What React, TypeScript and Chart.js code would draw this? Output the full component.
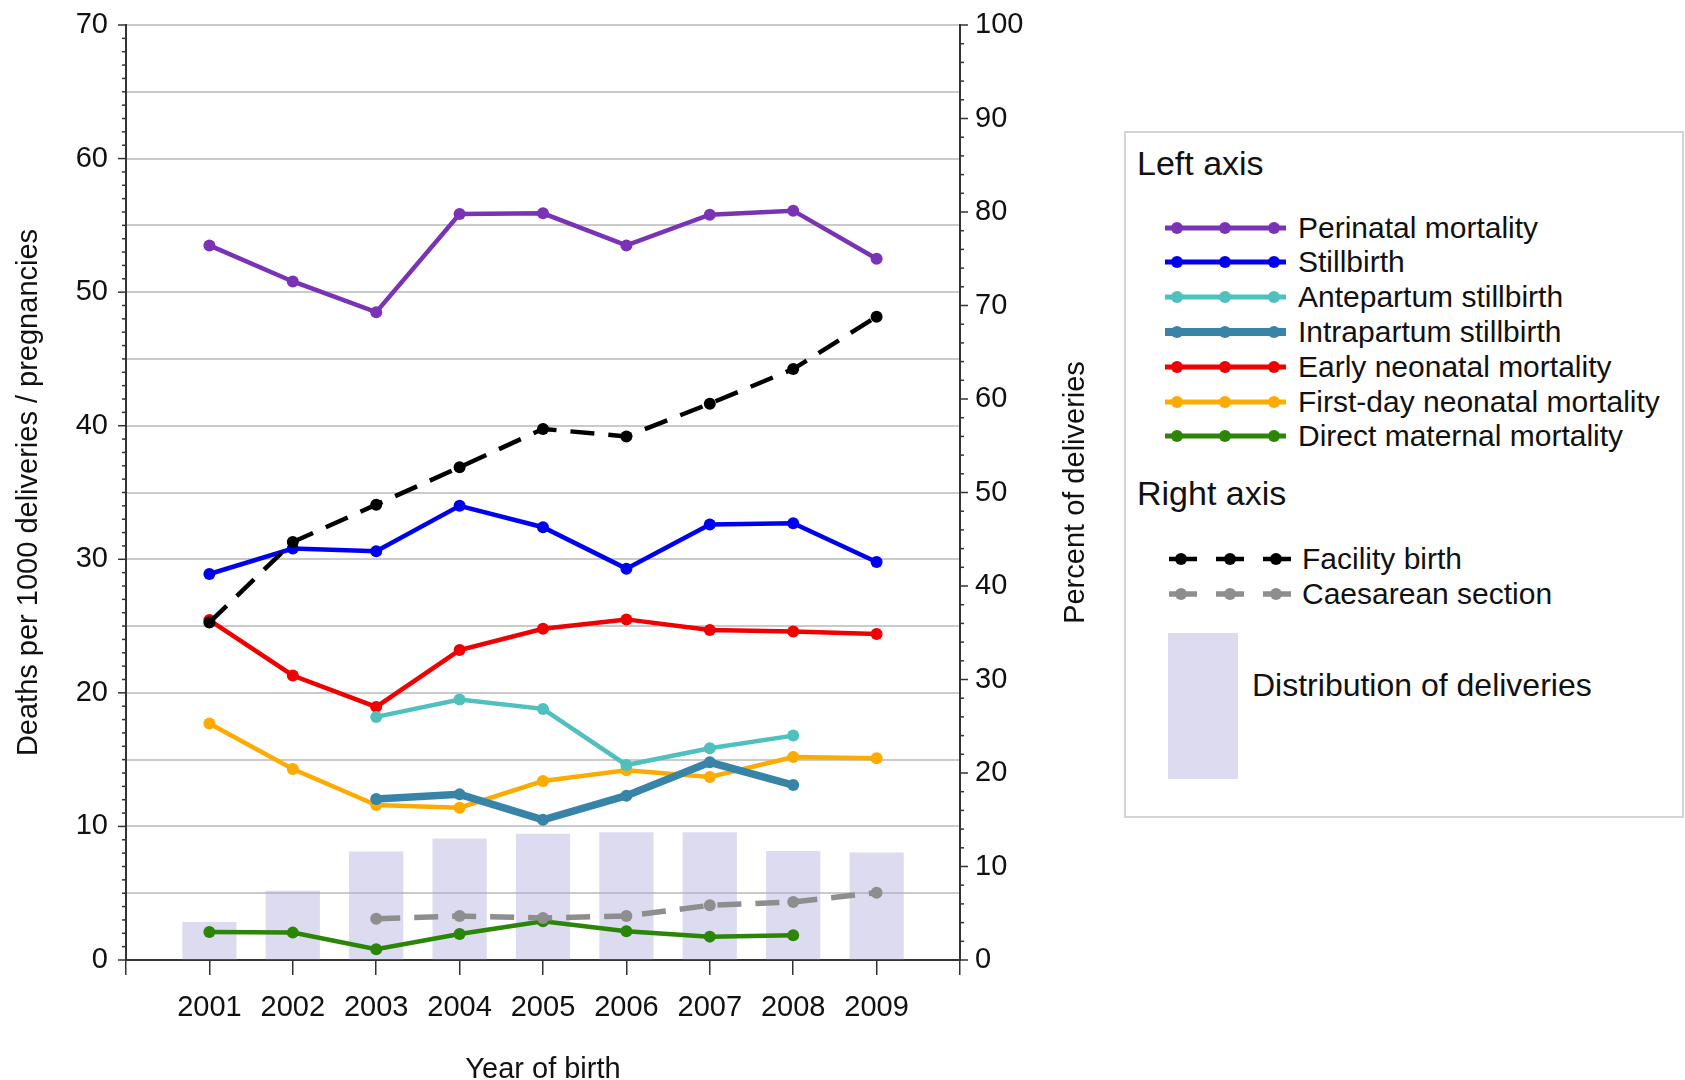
import React, { useEffect, useRef } from 'react';
import { Chart, registerables } from 'chart.js';

Chart.register(...registerables);

// ---- Data ----
const years = [2001, 2002, 2003, 2004, 2005, 2006, 2007, 2008, 2009];
const perinatal = [53.5, 50.8, 48.5, 55.85, 55.9, 53.5, 55.8, 56.1, 52.5];
const stillbirth = [28.9, 30.8, 30.6, 34.0, 32.4, 29.3, 32.6, 32.7, 29.8];
const antepartum = [null, null, 18.2, 19.5, 18.8, 14.6, 15.85, 16.8, null];
const intrapartum = [null, null, 12.05, 12.4, 10.5, 12.3, 14.8, 13.1, null];
const earlyNeonatal = [25.45, 21.3, 18.95, 23.2, 24.8, 25.5, 24.7, 24.6, 24.4];
const firstDayNeonatal = [17.7, 14.3, 11.6, 11.4, 13.4, 14.2, 13.7, 15.2, 15.1];
const directMaternal = [2.1, 2.05, 0.8, 1.95, 2.9, 2.15, 1.75, 1.85, null];
const facilityBirth = [36.1, 44.7, 48.7, 52.7, 56.8, 56.0, 59.5, 63.2, 68.8];
const caesarean = [null, null, 4.4, 4.7, 4.5, 4.7, 5.85, 6.2, 7.2];
const distribution = [4.06, 7.4, 11.6, 13.0, 13.5, 13.65, 13.65, 11.65, 11.5];

const leftTickValues = [0, 10, 20, 30, 40, 50, 60, 70];
const rightTickValues = [0, 10, 20, 30, 40, 50, 60, 70, 80, 90, 100];

const FONT = '"Liberation Sans", Arial, sans-serif';
const TEXT = '#111111';
const BAR_COLOR = 'rgba(172,170,218,0.42)';

type Series = { label: string; values: (number | null)[]; color: string; width: number };

const leftSeries: Series[] = [
  { label: 'Perinatal mortality', values: perinatal, color: '#7b33b5', width: 4.5 },
  { label: 'Stillbirth', values: stillbirth, color: '#0000f0', width: 4.5 },
  { label: 'Antepartum stillbirth', values: antepartum, color: '#4fc0bd', width: 4.5 },
  { label: 'Intrapartum stillbirth', values: intrapartum, color: '#3784a8', width: 7.5 },
  { label: 'Early neonatal mortality', values: earlyNeonatal, color: '#f00000', width: 4.5 },
  { label: 'First-day neonatal mortality', values: firstDayNeonatal, color: '#fdab00', width: 4.5 },
  { label: 'Direct maternal mortality', values: directMaternal, color: '#2b8507', width: 4.5 },
];

const rightSeries: Series[] = [
  { label: 'Facility birth', values: facilityBirth, color: '#000000', width: 4.5 },
  { label: 'Caesarean section', values: caesarean, color: '#8e8e8e', width: 5.5 },
];

const toPoints = (vals: (number | null)[]) =>
  years
    .map((yr, i) => ({ x: yr, y: vals[i] }))
    .filter((p) => p.y !== null) as { x: number; y: number }[];

const axisTicksPlugin = {
  id: 'axisTicks',
  afterDraw(chart: any) {
    const ctx = chart.ctx;
    const y = chart.scales.y;
    const y2 = chart.scales.y2;
    ctx.save();
    ctx.strokeStyle = '#333333';
    ctx.lineWidth = 1.5;
    for (let v = y.min; v <= y.max; v += 1) {
      const py = y.getPixelForValue(v);
      const len = v % 10 === 0 ? 8 : 4;
      ctx.beginPath();
      ctx.moveTo(y.right, py);
      ctx.lineTo(y.right - len, py);
      ctx.stroke();
    }
    for (let v = y2.min; v <= y2.max; v += 2) {
      const py = y2.getPixelForValue(v);
      const len = v % 10 === 0 ? 8 : 4;
      ctx.beginPath();
      ctx.moveTo(y2.left, py);
      ctx.lineTo(y2.left + len, py);
      ctx.stroke();
    }
    // right axis title (reads bottom-to-top)
    ctx.fillStyle = TEXT;
    ctx.font = `29px ${FONT}`;
    ctx.textAlign = 'center';
    ctx.textBaseline = 'middle';
    ctx.translate(y2.left + 116, (chart.chartArea.top + chart.chartArea.bottom) / 2);
    ctx.rotate(-Math.PI / 2);
    ctx.fillText('Percent of deliveries', 0, 0);
    ctx.restore();
  },
};

function LegendBox() {
  const rowY0 = 227.5;
  const rowStep = 34.8;
  const textStyle = (top: number, left: number, size: number, h: number): React.CSSProperties => ({
    position: 'absolute',
    left,
    top: top - h / 2,
    height: h,
    lineHeight: `${h}px`,
    fontSize: size,
    fontFamily: FONT,
    color: TEXT,
    whiteSpace: 'nowrap',
  });
  return (
    <>
      <div
        style={{
          position: 'absolute',
          left: 1124,
          top: 131,
          width: 556,
          height: 683,
          border: '2px solid #d4d4d4',
          background: '#ffffff',
        }}
      />
      <div style={textStyle(163, 1137, 34, 40)}>Left axis</div>
      {leftSeries.map((s, i) => {
        const cy = rowY0 + i * rowStep;
        return (
          <React.Fragment key={s.label}>
            <svg
              style={{ position: 'absolute', left: 1160, top: cy - 10 }}
              width={134}
              height={20}
            >
              <line x1={5} y1={10} x2={126} y2={10} stroke={s.color} strokeWidth={s.width + 0.5} />
              {[17, 65, 114].map((cx) => (
                <circle key={cx} cx={cx} cy={10} r={6} fill={s.color} />
              ))}
            </svg>
            <div style={textStyle(cy, 1298, 30, 36)}>{s.label}</div>
          </React.Fragment>
        );
      })}
      <div style={textStyle(493, 1137, 34, 40)}>Right axis</div>
      {rightSeries.map((s, i) => {
        const cy = 559 + i * 35;
        return (
          <React.Fragment key={s.label}>
            <svg
              style={{ position: 'absolute', left: 1160, top: cy - 10 }}
              width={134}
              height={20}
            >
              <line
                x1={9}
                y1={10}
                x2={131}
                y2={10}
                stroke={s.color}
                strokeWidth={s.width}
                strokeDasharray="28 19"
              />
              {[21, 70, 116].map((cx) => (
                <circle key={cx} cx={cx} cy={10} r={6} fill={s.color} />
              ))}
            </svg>
            <div style={textStyle(cy, 1302, 30, 36)}>{s.label}</div>
          </React.Fragment>
        );
      })}
      <div
        style={{
          position: 'absolute',
          left: 1168,
          top: 633,
          width: 70,
          height: 146,
          background: BAR_COLOR,
        }}
      />
      <div style={textStyle(685, 1252, 32, 40)}>Distribution of deliveries</div>
    </>
  );
}

export default function App() {
  const canvasRef = useRef<HTMLCanvasElement | null>(null);

  useEffect(() => {
    if (!canvasRef.current) return;
    Chart.defaults.font.family = FONT;
    Chart.defaults.color = TEXT;

    const lineSets = leftSeries.map((s, i) => ({
      type: 'line' as const,
      label: s.label,
      data: toPoints(s.values),
      borderColor: s.color,
      backgroundColor: s.color,
      borderWidth: s.width,
      pointRadius: 6,
      pointBorderWidth: 0,
      pointBackgroundColor: s.color,
      tension: 0,
      fill: false,
      yAxisID: 'y',
      order: 2 + i,
    }));
    const rightSets = rightSeries.map((s, i) => ({
      type: 'line' as const,
      label: s.label,
      data: toPoints(s.values),
      borderColor: s.color,
      backgroundColor: s.color,
      borderWidth: s.width,
      borderDash: [24, 14],
      pointRadius: 6,
      pointBorderWidth: 0,
      pointBackgroundColor: s.color,
      tension: 0,
      fill: false,
      yAxisID: 'y2',
      order: i,
    }));
    const barSet = {
      type: 'bar' as const,
      label: 'Distribution of deliveries',
      data: toPoints(distribution),
      backgroundColor: BAR_COLOR,
      borderWidth: 0,
      barPercentage: 0.65,
      categoryPercentage: 1,
      yAxisID: 'y2',
      order: 50,
    };

    const chart = new Chart(canvasRef.current, {
      type: 'line',
      data: { datasets: [...rightSets, ...lineSets, barSet] as any },
      options: {
        animation: false,
        responsive: false,
        layout: { padding: { left: 0, right: 595, top: 25, bottom: 0 } },
        plugins: { legend: { display: false }, tooltip: { enabled: false } },
        scales: {
          x: {
            type: 'linear',
            min: 2000,
            max: 2010,
            offset: false,
            afterFit: (scale: any) => {
              scale.height = 120;
            },
            afterBuildTicks: (scale: any) => {
              const t = [2000, ...years, 2010];
              scale.ticks = t.map((v) => ({ value: v }));
            },
            ticks: {
              autoSkip: false,
              maxRotation: 0,
              padding: 16,
              font: { size: 29 },
              color: TEXT,
              callback: (v: any) => (years.includes(Number(v)) ? String(v) : ''),
            },
            grid: {
              offset: false,
              drawOnChartArea: false,
              drawTicks: true,
              tickLength: 15,
              color: '#333333',
              lineWidth: 1.5,
            },
            border: { display: true, color: '#333333', width: 2 },
            title: {
              display: true,
              text: 'Year of birth',
              font: { size: 29, lineHeight: 0.72 },
              color: TEXT,
              padding: 0,
            },
          },
          y: {
            type: 'linear',
            position: 'left',
            min: 0,
            max: 70,
            afterFit: (scale: any) => {
              scale.width = 126;
            },
            ticks: {
              stepSize: 5,
              padding: 4,
              font: { size: 29 },
              color: TEXT,
              callback: (v: any) => (leftTickValues.includes(Number(v)) ? String(v) : ''),
            },
            grid: {
              drawTicks: true,
              tickLength: 14,
              tickColor: 'rgba(0,0,0,0)',
              lineWidth: 2,
              color: (ctx: any) => (ctx.tick && ctx.tick.value === 0 ? 'rgba(0,0,0,0)' : '#cacaca'),
            },
            border: { display: true, color: '#333333', width: 2 },
            title: {
              display: true,
              text: 'Deaths per 1000 deliveries / pregnancies',
              font: { size: 29, lineHeight: 1.2 },
              color: TEXT,
              padding: { top: 12, bottom: 0 },
            },
          },
          y2: {
            type: 'linear',
            position: 'right',
            min: 0,
            max: 100,
            afterFit: (scale: any) => {
              scale.width = 130;
            },
            ticks: {
              stepSize: 10,
              padding: 3,
              font: { size: 29 },
              color: TEXT,
              callback: (v: any) => (rightTickValues.includes(Number(v)) ? String(v) : ''),
            },
            grid: {
              drawOnChartArea: false,
              drawTicks: true,
              tickLength: 12,
              tickColor: 'rgba(0,0,0,0)',
            },
            border: { display: true, color: '#333333', width: 2 },
          },
        },
      } as any,
      plugins: [axisTicksPlugin],
    });
    return () => chart.destroy();
  }, []);

  return (
    <div
      style={{
        position: 'fixed',
        left: 0,
        top: 0,
        width: 1685,
        height: 1080,
        background: '#ffffff',
        overflow: 'hidden',
      }}
    >
      <canvas
        ref={canvasRef}
        width={1685}
        height={1080}
        style={{ position: 'absolute', left: 0, top: 0, width: 1685, height: 1080 }}
      />
      <LegendBox />
    </div>
  );
}
